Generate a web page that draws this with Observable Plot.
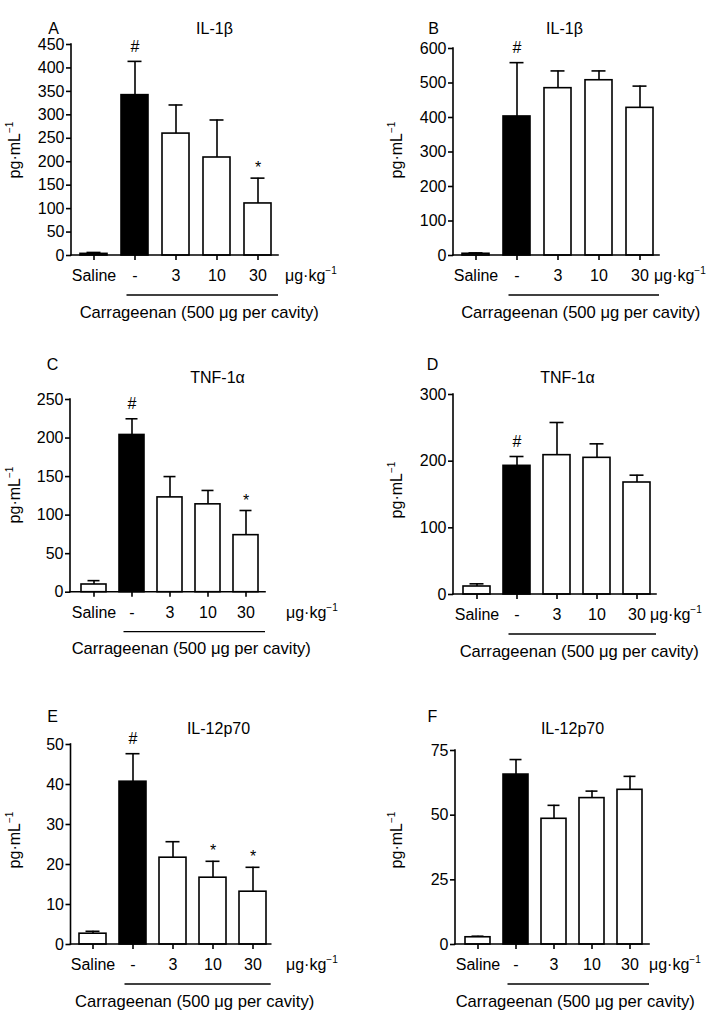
<!DOCTYPE html>
<html>
<head>
<meta charset="utf-8">
<script src="https://cdn.jsdelivr.net/npm/d3@7"></script>
<script src="https://cdn.jsdelivr.net/npm/@observablehq/plot@0.6"></script>
<style>
  body { margin: 0; background: #fff; }
  #fig { position: relative; width: 709px; height: 1010px; overflow: hidden; background: #fff; }
  #fig svg { position: absolute; }
</style>
</head>
<body>
<div id="fig"></div>
<script>
// ---------- data ----------
const categories = ["Saline", "-", "3", "10", "30"];

const meanA = [3.5, 342, 260, 209, 111];
const semA  = [3, 72, 61, 80, 54];
const meanB = [5, 403, 485, 508, 428];
const semB  = [2.5, 156, 50, 27, 63];
const meanC = [10, 204, 123, 114, 74];
const semC  = [5, 21, 27, 18, 32];
const meanD = [12, 193, 209, 205, 168];
const semD  = [4, 14, 49, 21, 11];
const meanE = [2.7, 40.7, 21.7, 16.7, 13.2];
const semE  = [0.6, 7.0, 4.0, 4.1, 6.1];
const meanF = [2.8, 65.7, 48.6, 56.6, 59.8];
const semF  = [0.4, 5.8, 5.2, 2.7, 5.2];

const yTicksA = [0, 50, 100, 150, 200, 250, 300, 350, 400, 450];
const yTicksB = [0, 100, 200, 300, 400, 500, 600];
const yTicksC = [0, 50, 100, 150, 200, 250];
const yTicksD = [0, 100, 200, 300];
const yTicksE = [0, 10, 20, 30, 40, 50];
const yTicksF = [0, 25, 50, 75];

const annGroupsA = ["-", "30"];       const annSymsA = ["#", "*"];
const annGroupsB = ["-"];             const annSymsB = ["#"];
const annGroupsC = ["-", "30"];       const annSymsC = ["#", "*"];
const annGroupsD = ["-"];             const annSymsD = ["#"];
const annGroupsE = ["-", "10", "30"]; const annSymsE = ["#", "*", "*"];
const annGroupsF = [];                const annSymsF = [];

const panelLetters = ["A", "B", "C", "D", "E", "F"];
const panelTitles = ["IL-1β", "IL-1β", "TNF-1α", "TNF-1α", "IL-12p70", "IL-12p70"];
const yLabelMain = "pg·mL";
const yLabelSup = "−1";
const unitMain = "μg·kg";
const unitSup = "−1";
const groupLabel = "Carrageenan (500 μg per cavity)";

// ---------- layout (page pixels) ----------
const layouts = [
  {left: 0,   top: 0,   w: 354, h: 330, axisX: 71,    frameR: 278,   yTop: 44,  y0: 255,   letter: [53, 22],  title: [214, 22],  ylab: [15, 150],  unitStart: 285},
  {left: 354, top: 0,   w: 355, h: 330, axisX: 453,   frameR: 659,   yTop: 48,  y0: 255,   letter: [433, 22], title: [564, 22],  ylab: [397, 150], unitStart: 654},
  {left: 0,   top: 330, w: 354, h: 340, axisX: 70,    frameR: 265,   yTop: 399, y0: 591.7, letter: [52, 358], title: [217, 371], ylab: [15, 495],  unitStart: 286},
  {left: 354, top: 330, w: 355, h: 340, axisX: 453,   frameR: 656,   yTop: 394, y0: 594,   letter: [432, 358],title: [567, 371], ylab: [397, 490], unitStart: 650},
  {left: 0,   top: 670, w: 354, h: 340, axisX: 70.5,  frameR: 270.7, yTop: 744, y0: 944,   letter: [52, 710], title: [218, 722], ylab: [15, 840],  unitStart: 286},
  {left: 354, top: 670, w: 355, h: 340, axisX: 455,   frameR: 649,   yTop: 750, y0: 944,   letter: [432, 710],title: [572, 722], ylab: [397, 840], unitStart: 649}
];

const panels = [
  {mean: meanA, sem: semA, yTicks: yTicksA, annGroups: annGroupsA, annSyms: annSymsA},
  {mean: meanB, sem: semB, yTicks: yTicksB, annGroups: annGroupsB, annSyms: annSymsB},
  {mean: meanC, sem: semC, yTicks: yTicksC, annGroups: annGroupsC, annSyms: annSymsC},
  {mean: meanD, sem: semD, yTicks: yTicksD, annGroups: annGroupsD, annSyms: annSymsD},
  {mean: meanE, sem: semE, yTicks: yTicksE, annGroups: annGroupsE, annSyms: annSymsE},
  {mean: meanF, sem: semF, yTicks: yTicksF, annGroups: annGroupsF, annSyms: annSymsF}
];

const FONT = "'Liberation Sans', Arial, Helvetica, sans-serif";
const SW = 1.6;
const FS = 16;

function makePanel(p, L, k) {
  const data = categories.map((c, i) => ({group: c, mean: p.mean[i], upper: p.mean[i] + p.sem[i]}));
  const ann = p.annGroups.map((g, i) => ({group: g, sym: p.annSyms[i], upper: data.find(d => d.group === g).upper}));
  const marginLeft = L.axisX - L.left;
  const marginRight = L.left + L.w - L.frameR;
  const marginTop = L.yTop - L.top;
  const marginBottom = L.top + L.h - L.y0;
  const ymax = p.yTicks[p.yTicks.length - 1];

  const decorations = (index, scales, values, dims) => {
    const x = scales.x, y = scales.y;
    const y0 = y(0);
    const g = d3.create("svg:g");
    const lines = g.append("g").attr("fill", "none").attr("stroke", "#000").attr("stroke-width", SW).attr("stroke-linecap", "square");
    // axis lines
    lines.append("line").attr("x1", dims.marginLeft).attr("x2", dims.marginLeft).attr("y1", y(ymax)).attr("y2", y0);
    lines.append("line").attr("x1", dims.marginLeft).attr("x2", dims.width - dims.marginRight).attr("y1", y0).attr("y2", y0);
    // group underline
    const ux1 = x("-") + x.bandwidth() / 2 - 8;
    const ux2 = dims.width - dims.marginRight;
    lines.append("line").attr("x1", ux1).attr("x2", ux2).attr("y1", y0 + 40).attr("y2", y0 + 40).attr("stroke-linecap", "butt").attr("stroke-width", 1.3);
    const texts = g.append("g").attr("fill", "#000").attr("font-family", FONT).attr("font-size", FS);
    texts.append("text").attr("x", (ux1 + ux2) / 2 - 3).attr("y", y0 + 62.5).attr("text-anchor", "middle").attr("font-size", 16.6).text(groupLabel);
    // unit label
    const u = texts.append("text").attr("x", L.unitStart - L.left).attr("y", y0 + 26).attr("text-anchor", "start");
    u.append("tspan").text(unitMain);
    u.append("tspan").attr("font-size", 10).attr("dy", -7).text(unitSup);
    // y label
    const yl = texts.append("text")
      .attr("transform", `translate(${L.ylab[0] - L.left},${L.ylab[1] - L.top}) rotate(-90)`)
      .attr("text-anchor", "middle").attr("dy", "0.32em");
    yl.append("tspan").text(yLabelMain);
    yl.append("tspan").attr("font-size", 10).attr("dy", -7).text(yLabelSup);
    return g.node();
  };

  const svg = Plot.plot({
    width: L.w, height: L.h,
    marginLeft, marginRight, marginTop, marginBottom,
    style: {fontFamily: FONT, fontSize: FS + "px", color: "#000", background: "transparent", overflow: "visible"},
    x: {domain: categories, paddingInner: 0.33, paddingOuter: 0.167, align: 0.6, axis: null},
    y: {domain: [0, ymax], axis: null},
    marks: [
      Plot.barY(data, {filter: d => d.group !== "-", x: "group", y: "mean", fill: "#fff", stroke: "#000", strokeWidth: SW}),
      Plot.barY(data, {filter: d => d.group === "-", x: "group", y: "mean", fill: "#000", stroke: "#000", strokeWidth: SW}),
      Plot.ruleX(data, {x: "group", y1: "mean", y2: "upper", stroke: "#000", strokeWidth: SW}),
      Plot.tickY(data, {x: "group", y: "upper", insetLeft: 6.5, insetRight: 6.5, stroke: "#000", strokeWidth: SW}),
      Plot.axisY({ticks: p.yTicks, tickSize: 5, tickPadding: 2, label: null, stroke: "#000", strokeWidth: SW, fontSize: FS, tickFormat: d => String(d)}),
      Plot.axisX({tickSize: 5, tickPadding: 9, label: null, stroke: "#000", strokeWidth: SW, fontSize: FS}),
      Plot.text(ann, {filter: d => d.sym === "#", x: "group", y: "upper", text: "sym", dy: -15, fontSize: FS, fill: "#000"}),
      Plot.text(ann, {filter: d => d.sym === "*", x: "group", y: "upper", text: "sym", dy: -10, fontSize: FS, fill: "#000"}),
      Plot.text([panelLetters[k]], {text: d => d, frameAnchor: "top-left", dx: L.letter[0] - L.axisX, dy: L.letter[1] - L.yTop, textAnchor: "middle", fontSize: FS, fill: "#000"}),
      Plot.text([panelTitles[k]], {text: d => d, frameAnchor: "top-left", dx: L.title[0] - L.axisX, dy: L.title[1] - L.yTop, textAnchor: "middle", fontSize: FS, fill: "#000"}),
      decorations
    ]
  });
  svg.style.left = L.left + "px";
  svg.style.top = L.top + "px";
  svg.style.position = "absolute";
  return svg;
}

const fig = document.getElementById("fig");
panels.forEach((p, k) => fig.appendChild(makePanel(p, layouts[k], k)));
</script>
</body>
</html>
